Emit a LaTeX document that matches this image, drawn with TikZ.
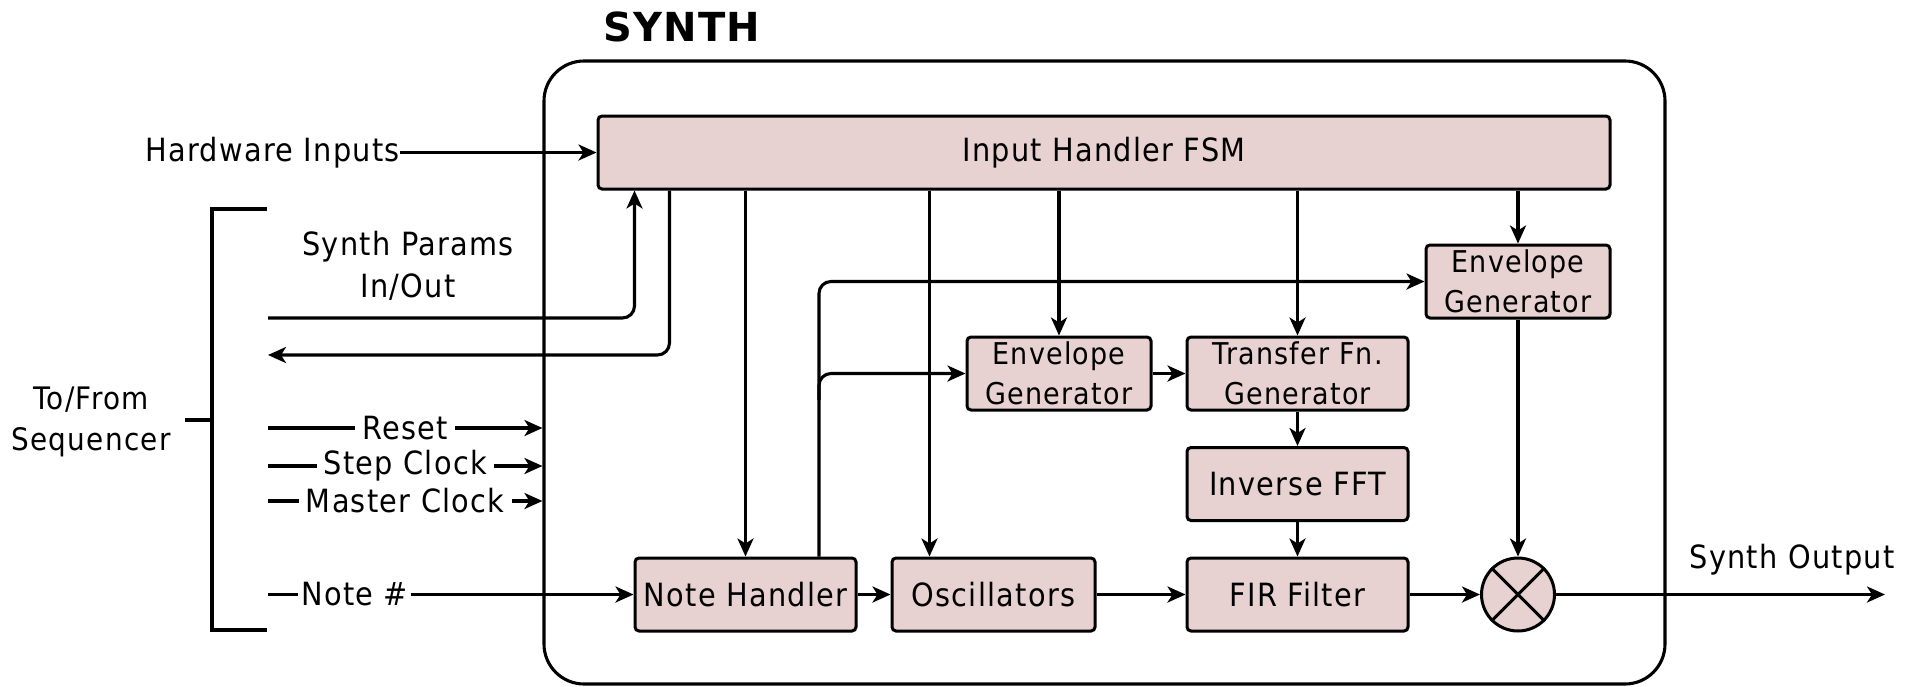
\documentclass[tikz,border=0pt]{standalone}
\usepackage{fontspec}
\setmainfont{DejaVu Sans}[FakeStretch=0.9,LetterSpace=4]
\newfontfamily\titlefont{DejaVu Sans}[LetterSpace=3]
\usetikzlibrary{arrows.meta}
\definecolor{blkfill}{RGB}{231,209,209}
\tikzset{
  wire/.style={line width=3.1pt},
  arr/.style={wire, -{Stealth[length=18pt,width=16pt,inset=5pt]}},
  blk/.style={draw, fill=blkfill, line width=3pt, rounded corners=4pt, inner sep=0pt,
    align=center, font=\fontsize{32}{42}\selectfont},
  blktwo/.style={blk, font=\fontsize{30}{40}\selectfont},
  lbl/.style={inner sep=0pt, align=center, font=\fontsize{32}{42}\selectfont},
  tag/.style={fill=white, inner xsep=7pt, inner ysep=2pt, font=\fontsize{32}{42}\selectfont},
}
\begin{document}
\begin{tikzpicture}[x=1pt,y=-1pt]
\useasboundingbox (0,0) rectangle (1907,686);
% outer synth box
\node[draw, wire, rounded corners=40pt, minimum width=1121pt, minimum height=623pt, inner sep=0pt] (synth) at (1104.5,372.5) {};
\node[anchor=base west, inner sep=0pt, font=\titlefont\bfseries\fontsize{40}{48}\selectfont] (title) at (603,41) {SYNTH};
% blocks
\node[blk, minimum width=1012pt, minimum height=73pt] (fsm) at (1104,152.5) {Input Handler FSM};
\node[blktwo, minimum width=184pt, minimum height=73pt] (eg2) at (1518,281.5) {Envelope\\Generator};
\node[blktwo, minimum width=184pt, minimum height=73pt] (eg1) at (1059,373.5) {Envelope\\Generator};
\node[blktwo, minimum width=221pt, minimum height=73pt] (tf) at (1297.5,373.5) {Transfer Fn.\\Generator};
\node[blk, minimum width=221pt, minimum height=73pt] (ifft) at (1297.5,484) {Inverse FFT};
\node[blk, minimum width=221pt, minimum height=73pt] (nh) at (745.5,594.5) {Note Handler};
\node[blk, minimum width=203pt, minimum height=73pt] (osc) at (993.5,594.5) {Oscillators};
\node[blk, minimum width=221pt, minimum height=73pt] (fir) at (1297.5,594.5) {FIR Filter};
\node[draw, fill=blkfill, line width=3pt, circle, minimum size=73pt, inner sep=0pt] (mul) at (1518,594.5) {};
\draw[wire] (mul.north west) -- (mul.south east) (mul.north east) -- (mul.south west);
% labels
\node[lbl, anchor=east] (hw) at (400,152.5) {Hardware Inputs};
\node[lbl] (sp) at (408,266) {Synth Params\\In/Out};
\node[lbl, font=\fontsize{31}{41}\selectfont] (seq) at (91,422) {To/From\\Sequencer};
\node[lbl] (so) at (1792,560) {Synth Output};
% bracket
\draw[wire] (267,209) -- (212,209) -- (212,630) -- (267,630);
\draw[wire] (185,420) -- (212,420);
% free ends
\coordinate (spin) at (268,318);
\coordinate (spout) at (268,355);
\coordinate (rst) at (268,428);
\coordinate (stp) at (268,466);
\coordinate (mst) at (268,501);
\coordinate (note) at (268,594.5);
\coordinate (br) at (819,400);
\coordinate (outpt) at (1885,594.5);
% connectors
\draw[arr] (hw.east) -- (fsm.west);
\draw[arr, rounded corners=12pt] (spin) -| ([xshift=38pt]fsm.south west);
\draw[arr, rounded corners=12pt] ([xshift=73pt]fsm.south west) |- (spout);
\draw[arr] (rst) -- node[tag] (rstl) {Reset} (rst -| synth.west);
\draw[arr] (stp) -- node[tag] (stpl) {Step Clock} (stp -| synth.west);
\draw[arr] (mst) -- node[tag] (mstl) {Master Clock} (mst -| synth.west);
\draw[arr] (note) -- node[tag, pos=0.237, inner xsep=3pt] (notel) {Note \#} (nh.west);
\draw[arr] (nh.north |- fsm.south) -- (nh.north);
\draw[arr] (fsm.south -| 929.5,0) -- (osc.north -| 929.5,0);
\draw[arr] (eg1.north |- fsm.south) -- (eg1.north);
\draw[arr] (tf.north |- fsm.south) -- (tf.north);
\draw[arr] (eg2.north |- fsm.south) -- (eg2.north);
\draw[arr, rounded corners=12pt] ([xshift=73.5pt]nh.north) |- (eg2.west);
\draw[arr, rounded corners=12pt] (br) |- (eg1.west);
\draw[arr] (eg1.east) -- (tf.west);
\draw[arr] (tf.south) -- (ifft.north);
\draw[arr] (ifft.south) -- (fir.north);
\draw[arr] (nh.east) -- (osc.west);
\draw[arr] (osc.east) -- (fir.west);
\draw[arr] (fir.east) -- (mul.west);
\draw[arr] (eg2.south) -- (mul.north);
\draw[arr] (mul.east) -- (outpt);
\end{tikzpicture}
\end{document}
